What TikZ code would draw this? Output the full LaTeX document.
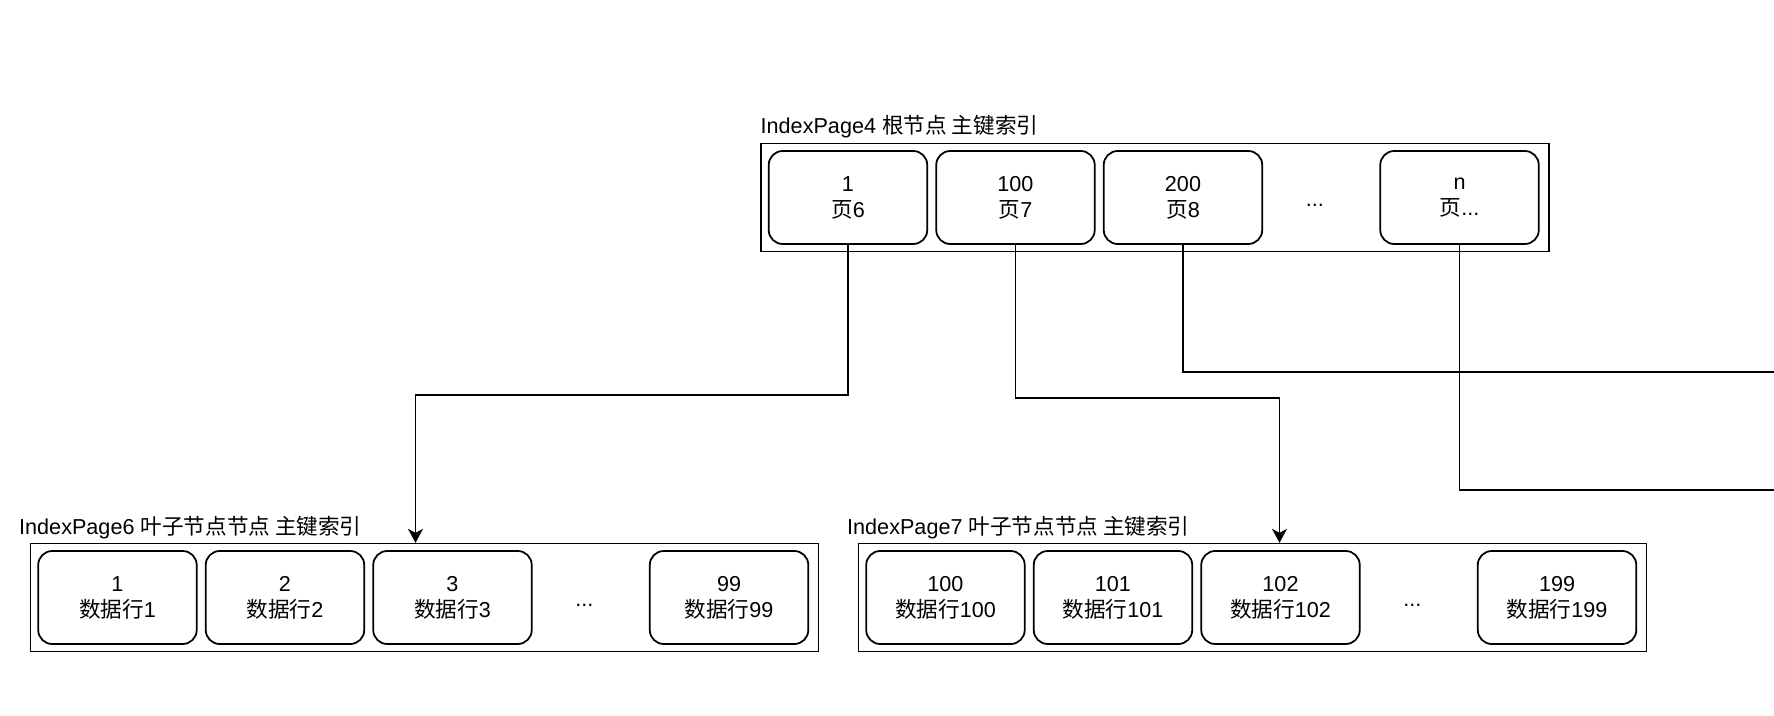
\documentclass[tikz,border=0pt]{standalone}
\usepackage{fontspec}
\setmainfont{Liberation Sans}
\newfontfamily\cjk{Noto Sans CJK SC}
\usetikzlibrary{calc,arrows.meta,positioning}
\newcommand{\zh}[1]{{\cjk #1}}
\tikzset{
  page/.style={draw=black, line width=0.75pt, minimum width=15.76cm, minimum height=2.16cm, inner sep=0pt},
  cell/.style={draw=black, line width=1pt, rounded corners=0.28cm, align=center,
    minimum width=3.17cm, minimum height=1.86cm, inner sep=0pt},
  pagelabel/.style={anchor=base west, inner sep=0pt},
  gap/.style={inner sep=0pt, xshift=-0.13cm, yshift=-0.16cm},
  arr/.style={-{Stealth[length=0.28cm,width=0.3cm,inset=0.08cm]}, line width=0.75pt},
  link/.style={line width=0.75pt}
}

\begin{document}
\begin{tikzpicture}[font=\fontsize{12.3}{14.8}\selectfont]
  \useasboundingbox (0,0) rectangle (35.48,-14.32);

  % root page
  \node[page] (idx4) at (23.1,-3.95) {};
  \node[pagelabel] (idx4lbl) at ([yshift=0.18cm]idx4.north west) {IndexPage4 \zh{根节点 主键索引}};
  \node[cell, right=0.15cm of idx4.west] (r1) {1\\\zh{页}6};
  \node[cell, right=0.145cm of r1] (r2) {100\\\zh{页}7};
  \node[cell, right=0.145cm of r2] (r3) {200\\\zh{页}8};
  \node[cell, left=0.2cm of idx4.east] (rn) {n\\\zh{页}...};
  \node[gap] (rdots) at ($(r3.east)!0.5!(rn.west)$) {...};

  % leaf page 6
  \node[page] (idx6) at (8.49,-11.95) {};
  \node[pagelabel] (idx6lbl) at ([xshift=-0.22cm,yshift=0.17cm]idx6.north west) {IndexPage6 \zh{叶子节点节点 主键索引}};
  \node[cell, right=0.15cm of idx6.west] (a1) {1\\\zh{数据行}1};
  \node[cell, right=0.145cm of a1] (a2) {2\\\zh{数据行}2};
  \node[cell, right=0.145cm of a2] (a3) {3\\\zh{数据行}3};
  \node[cell, left=0.2cm of idx6.east] (an) {99\\\zh{数据行}99};
  \node[gap] (adots) at ($(a3.east)!0.5!(an.west)$) {...};

  % leaf page 7
  \node[page] (idx7) at (25.05,-11.95) {};
  \node[pagelabel] (idx7lbl) at ([xshift=-0.22cm,yshift=0.17cm]idx7.north west) {IndexPage7 \zh{叶子节点节点 主键索引}};
  \node[cell, right=0.15cm of idx7.west] (b1) {100\\\zh{数据行}100};
  \node[cell, right=0.145cm of b1] (b2) {101\\\zh{数据行}101};
  \node[cell, right=0.145cm of b2] (b3) {102\\\zh{数据行}102};
  \node[cell, left=0.2cm of idx7.east] (bn) {199\\\zh{数据行}199};
  \node[gap] (bdots) at ($(b3.east)!0.5!(bn.west)$) {...};

  % pointers
  \coordinate (out8) at (35.48,-7.44);
  \coordinate (outn) at (35.48,-9.8);
  \draw[arr] (r1.south) -- ++(0,-3.0) -| ([xshift=-0.18cm]idx6.north);
  \draw[arr] (r2.south) -- ++(0,-3.06) -| ([xshift=0.54cm]idx7.north);
  \draw[link] (r3.south) |- (out8);
  \draw[link] (rn.south) |- (outn);
\end{tikzpicture}
\end{document}
